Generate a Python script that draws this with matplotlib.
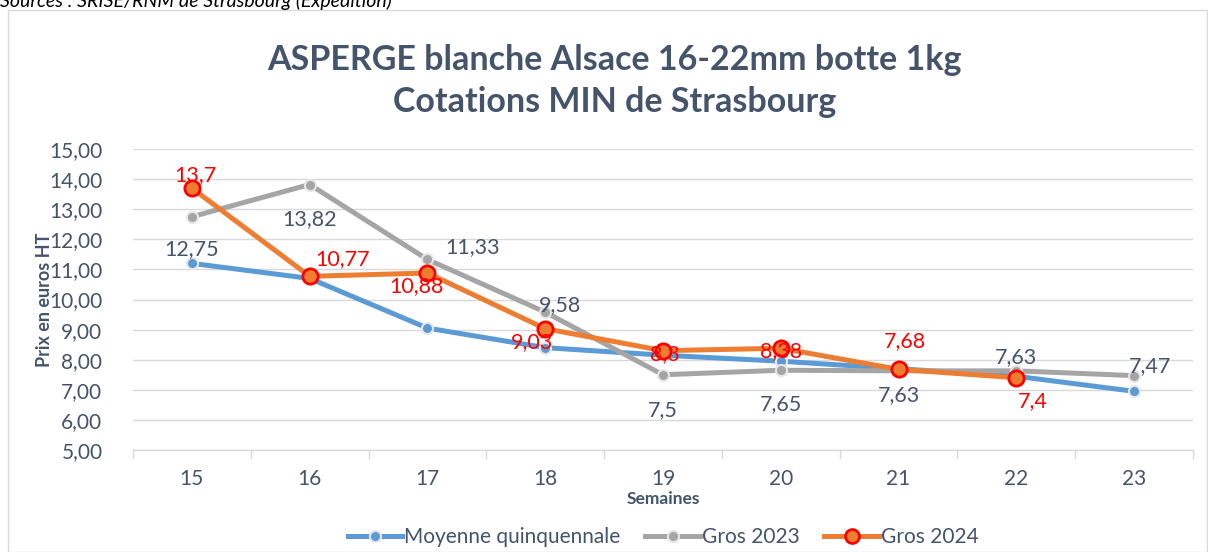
import matplotlib
matplotlib.use("Agg")
import matplotlib.pyplot as plt
from matplotlib.patches import Rectangle
from matplotlib.lines import Line2D

plt.rcParams['font.family'] = ['Lato', 'DejaVu Sans']

weeks = [15, 16, 17, 18, 19, 20, 21, 22, 23]
moyenne = [11.2, 10.7, 9.05, 8.4, 8.15, 7.95, 7.7, 7.45, 6.95]
gros2023 = [12.75, 13.82, 11.33, 9.58, 7.5, 7.65, 7.63, 7.63, 7.47]
gros2024 = [13.7, 10.77, 10.88, 9.03, 8.3, 8.38, 7.68, 7.4]
labels2023 = ["12,75", "13,82", "11,33", "9,58", "7,5", "7,65", "7,63", "7,63", "7,47"]
labels2024 = ["13,7", "10,77", "10,88", "9,03", "8,3", "8,38", "7,68", "7,4"]
yticks = [5, 6, 7, 8, 9, 10, 11, 12, 13, 14, 15]

TXT = '#44546A'
BLUE = '#5B9BD5'
GRAY = '#A5A5A5'
ORANGE = '#ED7D31'

fig = plt.figure(figsize=(12.08, 5.52), dpi=100)
fig.patches.append(Rectangle((8/1208, 0), 1199/1208, 1 - 10/552, transform=fig.transFigure,
                             fill=False, edgecolor='#D9D9D9', linewidth=1))
fig.text(0.0, 1 - 7/552, "Sources : SRISE/RNM de Strasbourg (Expédition)", style='italic',
         fontsize=14, color='black', ha='left', va='baseline')

ax = fig.add_axes([133/1208, 1 - 450/552, (1193 - 133)/1208, (450 - 149)/552])
x = list(range(len(weeks)))
ax.plot(x, moyenne, color=BLUE, lw=3.6, marker='o', ms=8, mfc=BLUE, mec='#E7E6E6', mew=1.5,
        solid_capstyle='round', zorder=3)
ax.plot(x, gros2023, color=GRAY, lw=3.6, marker='o', ms=8, mfc=GRAY, mec='#E7E6E6', mew=1.5,
        solid_capstyle='round', zorder=4)
ax.plot(x[:len(gros2024)], gros2024, color=ORANGE, lw=3.6, marker='o', ms=11, mfc=ORANGE,
        mec='#FF0000', mew=2, solid_capstyle='round', zorder=5)

ax.set_xlim(-0.5, len(weeks) - 0.5)
ax.set_ylim(5, 15)
ax.set_yticks(yticks)
ax.set_yticklabels([f"{v:.2f}".replace('.', ',') for v in yticks], fontsize=15, color=TXT)
ax.set_xticks(x)
ax.set_xticklabels([str(w) for w in weeks], fontsize=15, color=TXT)
ax.tick_params(axis='x', length=0, pad=14)
ax.tick_params(axis='y', length=0, pad=22)
ax.grid(axis='y', color='#D9D9D9', lw=1)
ax.set_axisbelow(True)
for s in ['top', 'right', 'left']:
    ax.spines[s].set_visible(False)
ax.spines['bottom'].set_color('#D9D9D9')
ax.spines['bottom'].set_linewidth(1)
for b in range(len(weeks) + 1):
    ax.add_line(Line2D([b - 0.5, b - 0.5], [0, -8/301], transform=ax.get_xaxis_transform(),
                       color='#D9D9D9', lw=1, clip_on=False))

ax.set_ylabel("Prix en euros HT", fontsize=13, fontweight='bold', color=TXT, labelpad=-3)
ax.set_xlabel("Semaines", fontsize=12.5, fontweight='bold', color=TXT, labelpad=1)

off23 = [(0, -32), (0, -35), (45, 12), (15, 7), (0, -35), (0, -34), (0, -24), (0, 14), (16, 10)]
off24 = [(4, 13), (33, 17), (-11, -13), (-13, -13), (2, -3), (0, -3), (6, 28), (16, -23)]
for i, (v, t) in enumerate(zip(gros2023, labels2023)):
    ax.annotate(t, (i, v), xytext=off23[i], textcoords='offset pixels', ha='center', va='center',
                fontsize=15.5, color=TXT, zorder=6)
for i, (v, t) in enumerate(zip(gros2024, labels2024)):
    ax.annotate(t, (i, v), xytext=off24[i], textcoords='offset pixels', ha='center', va='center',
                fontsize=15.5, color='#FF0000', zorder=6)

fig.text(0.509, 1 - 60/552, "ASPERGE blanche Alsace 16-22mm botte 1kg", fontsize=24.5,
         fontweight='bold', color=TXT, ha='center', va='center')
fig.text(0.509, 1 - 102/552, "Cotations MIN de Strasbourg", fontsize=24.5,
         fontweight='bold', color=TXT, ha='center', va='center')

handles = [
    Line2D([], [], color=BLUE, lw=3.6, marker='o', ms=8, mfc=BLUE, mec='#E7E6E6', mew=1.5),
    Line2D([], [], color=GRAY, lw=3.6, marker='o', ms=8, mfc=GRAY, mec='#E7E6E6', mew=1.5),
    Line2D([], [], color=ORANGE, lw=3.6, marker='o', ms=10, mfc=ORANGE, mec='#FF0000', mew=2),
]
fig.legend(handles, ["Moyenne quinquennale", "Gros 2023", "Gros 2024"], loc='center',
           bbox_to_anchor=(0.549, 1 - 537/552), ncol=3, frameon=False, fontsize=15,
           labelcolor=TXT, handlelength=2.6, handletextpad=0.1, columnspacing=1.2)

fig.savefig("out.png", dpi=100)
